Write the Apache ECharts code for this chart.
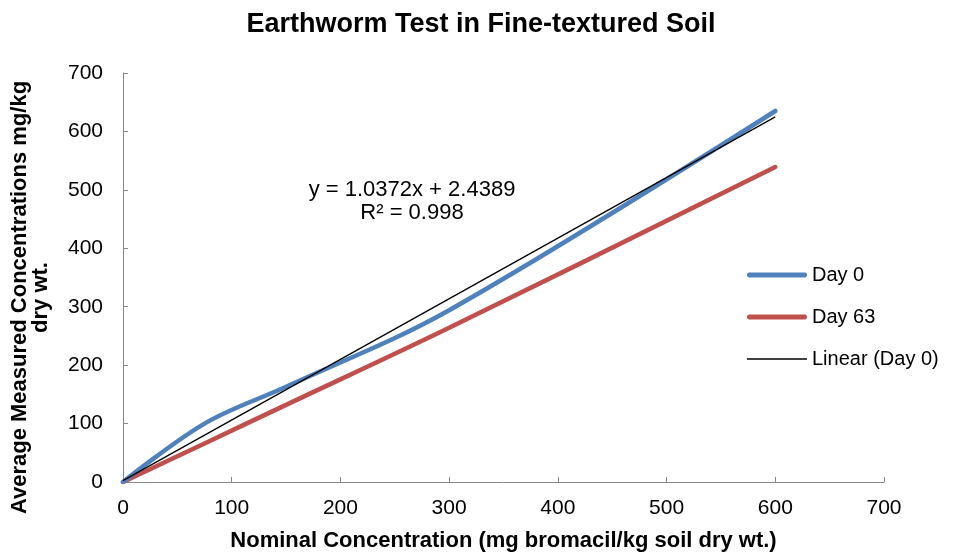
<!DOCTYPE html>
<html><head><meta charset="utf-8">
<script src="https://cdn.jsdelivr.net/npm/echarts@6/dist/echarts.min.js"></script>
<style>html,body{margin:0;padding:0;background:#fff}#c{width:955px;height:559px}</style>
</head><body><div id="c"></div>
<script>
const nominal = [0, 75, 150, 300, 600];
const day0 = [0, 100, 163, 294, 635];
const day63 = [0, 66, 132, 264, 539];
const trendX = [0, 600];
const trendY = [2.4, 624.8];
const xTicks = [0, 100, 200, 300, 400, 500, 600, 700];
const yTicks = [0, 100, 200, 300, 400, 500, 600, 700];

const chart = echarts.init(document.getElementById('c'));
const pair = (xs, ys) => xs.map((x, i) => [x, ys[i]]);
chart.setOption({
  animation: false,
  title: {
    text: 'Earthworm Test in Fine-textured Soil',
    left: 476, top: 6, textAlign: 'center',
    textStyle: {fontFamily: 'Liberation Sans', fontSize: 27, fontWeight: 'bold', color: '#000'}
  },
  grid: {left: 123, right: 71, top: 73, bottom: 77},
  legend: {
    orient: 'vertical', left: 742, top: 260, itemGap: 22,
    itemWidth: 60, itemHeight: 20,
    textStyle: {fontFamily: 'Liberation Sans', fontSize: 20, color: '#000'},
    data: [
      {name: 'Day 0', icon: 'path://M2,0L60,0Q62,0 62,2.5Q62,5 60,5L2,5Q0,5 0,2.5Q0,0 2,0Z'},
      {name: 'Day 63', icon: 'path://M2,0L60,0Q62,0 62,2.5Q62,5 60,5L2,5Q0,5 0,2.5Q0,0 2,0Z'},
      {name: 'Linear (Day 0)', icon: 'path://M0,0L60,0L60,1.4L0,1.4Z'}
    ]
  },
  xAxis: {
    type: 'value', min: 0, max: 700, interval: 100,
    name: 'Nominal Concentration (mg bromacil/kg soil dry wt.)',
    nameLocation: 'middle', nameGap: 48,
    nameTextStyle: {fontFamily: 'Liberation Sans', fontSize: 22, fontWeight: 'bold', color: '#000'},
    axisLine: {lineStyle: {color: '#888', width: 1}},
    axisTick: {inside: true, length: 5, lineStyle: {color: '#888'}},
    axisLabel: {fontFamily: 'Liberation Sans', fontSize: 21, color: '#000', margin: 16,
      formatter: v => xTicks.includes(v) ? String(v) : ''},
    splitLine: {show: false}
  },
  yAxis: {
    type: 'value', min: 0, max: 700, interval: 100,
    name: 'Average Measured Concentrations mg/kg\ndry wt.',
    nameLocation: 'middle', nameGap: 72, nameRotate: 90,
    nameTextStyle: {fontFamily: 'Liberation Sans', fontSize: 22, fontWeight: 'bold', color: '#000', lineHeight: 21, padding: [0, 40, 0, 0]},
    axisLine: {show: true, lineStyle: {color: '#888', width: 1}},
    axisTick: {show: true, inside: true, length: 5, lineStyle: {color: '#888'}},
    axisLabel: {fontFamily: 'Liberation Sans', fontSize: 21, color: '#000', margin: 20,
      formatter: v => yTicks.includes(v) ? String(v) : ''},
    splitLine: {show: false}
  },
  series: [
    {name: 'Day 0', type: 'line', data: pair(nominal, day0), smooth: 0.35, symbol: 'none',
     lineStyle: {color: '#4F81BD', width: 4.5, cap: 'round'}, itemStyle: {color: '#4F81BD'}, z: 3},
    {name: 'Day 63', type: 'line', data: pair(nominal, day63), smooth: 0.35, symbol: 'none',
     lineStyle: {color: '#C0504D', width: 4.5, cap: 'round'}, itemStyle: {color: '#C0504D'}, z: 2},
    {name: 'Linear (Day 0)', type: 'line', data: pair(trendX, trendY), symbol: 'none',
     lineStyle: {color: '#000', width: 1.3}, itemStyle: {color: '#000'}, z: 4}
  ],
  graphic: [
    {type: 'text', x: 412, y: 179, style: {text: 'y = 1.0372x + 2.4389', fontFamily: 'Liberation Sans', fontSize: 22, fill: '#000', align: 'center'}},
    {type: 'text', x: 412, y: 202, style: {text: 'R² = 0.998', fontFamily: 'Liberation Sans', fontSize: 22, fill: '#000', align: 'center'}}
  ]
});
</script></body></html>
